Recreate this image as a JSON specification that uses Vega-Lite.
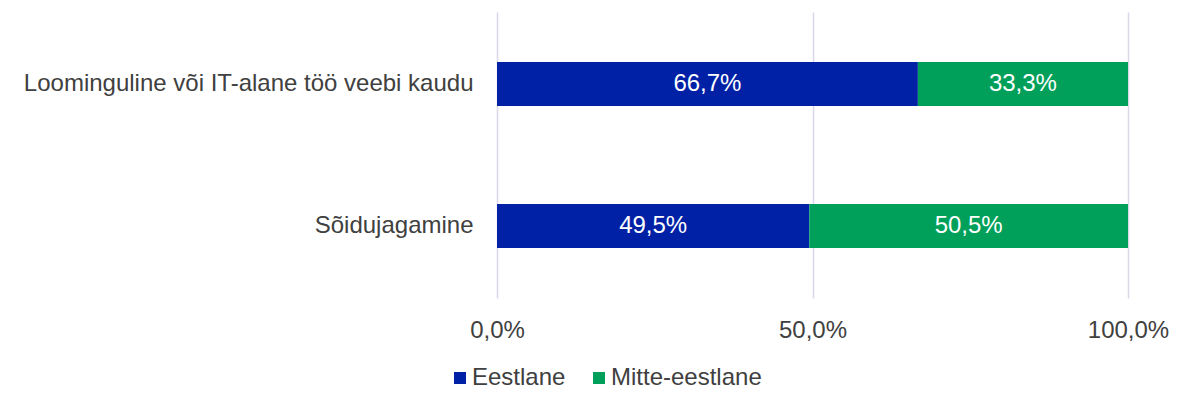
{
  "$schema": "https://vega.github.io/schema/vega-lite/v6.json",
  "width": 631,
  "height": 286,
  "autosize": {"type": "none"},
  "padding": {"left": 497, "top": 12, "right": 56, "bottom": 107},
  "background": "white",
  "config": {
    "locale": {"number": {"decimal": ",", "thousands": " ", "grouping": [3], "currency": ["", " €"]}},
    "font": "Liberation Sans",
    "view": {"stroke": null}
  },
  "data": {
    "values": [
      {"cat": "Loominguline või IT-alane töö veebi kaudu", "grp": "Eestlane", "ord": 1, "pct": 0.667},
      {"cat": "Loominguline või IT-alane töö veebi kaudu", "grp": "Mitte-eestlane", "ord": 2, "pct": 0.333},
      {"cat": "Sõidujagamine", "grp": "Eestlane", "ord": 1, "pct": 0.495},
      {"cat": "Sõidujagamine", "grp": "Mitte-eestlane", "ord": 2, "pct": 0.505}
    ]
  },
  "transform": [
    {"stack": "pct", "groupby": ["cat"], "sort": [{"field": "ord"}], "as": ["x0", "x1"]},
    {"calculate": "(datum.x0 + datum.x1) / 2", "as": "mid"}
  ],
  "encoding": {
    "y": {
      "field": "cat", "type": "nominal", "sort": null, "title": null,
      "scale": {"paddingInner": 0.69, "paddingOuter": 0.352},
      "axis": {"labelFontSize": 24, "labelColor": "#404040", "labelPadding": 24, "ticks": false, "domain": false, "labelLimit": 700}
    }
  },
  "layer": [
    {
      "mark": {"type": "bar"},
      "encoding": {
        "x": {
          "field": "x0", "type": "quantitative", "title": null,
          "scale": {"domain": [0, 1], "nice": false},
          "axis": {"values": [0, 0.5, 1], "format": ".1%", "labelFontSize": 24, "labelColor": "#404040", "labelPadding": 20, "ticks": false, "domain": false, "gridColor": "#DCD6E8", "gridWidth": 1.5, "labelFlush": false}
        },
        "x2": {"field": "x1"},
        "color": {
          "field": "grp", "type": "nominal", "title": null,
          "scale": {"domain": ["Eestlane", "Mitte-eestlane"], "range": ["#0021A6", "#00A05A"]},
          "legend": {"orient": "none", "legendX": -49, "legendY": 354, "direction": "horizontal", "symbolType": "square", "symbolSize": 144, "symbolStrokeWidth": 0, "labelFontSize": 24, "labelColor": "#404040", "labelOffset": 0, "columnPadding": 21}
        }
      }
    },
    {
      "mark": {"type": "text", "color": "white", "fontSize": 24, "baseline": "middle", "align": "center"},
      "encoding": {
        "x": {"field": "mid", "type": "quantitative"},
        "text": {"field": "pct", "type": "quantitative", "format": ".1%"}
      }
    }
  ]
}
